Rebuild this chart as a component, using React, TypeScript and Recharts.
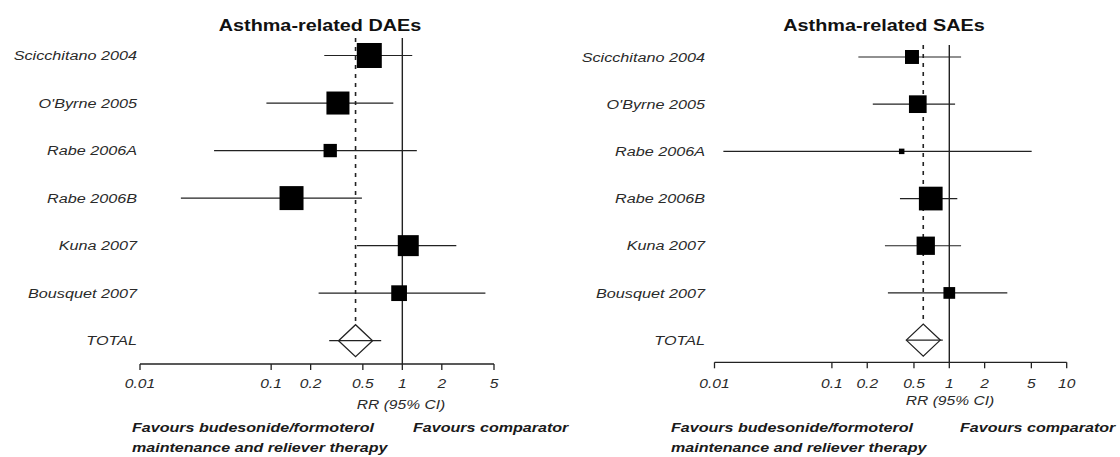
import React from "react";
import {
  ErrorBar,
  ReferenceLine,
  Scatter,
  ScatterChart,
  XAxis,
  YAxis,
} from "recharts";

const STUDIES = [
  "Scicchitano 2004",
  "O'Byrne 2005",
  "Rabe 2006A",
  "Rabe 2006B",
  "Kuna 2007",
  "Bousquet 2007",
];
const TOTAL_LABEL = "TOTAL";

// Asthma-related DAEs: relative risk with 95% CI, and study weight
const DAE_RR = [0.56, 0.323, 0.282, 0.143, 1.11, 0.945];
const DAE_LOW = [0.254, 0.092, 0.0367, 0.0205, 0.451, 0.23];
const DAE_HIGH = [1.19, 0.854, 1.29, 0.492, 2.58, 4.3];
const DAE_WEIGHT = [25, 21.2, 7.1, 23, 17.6, 9.9];
const DAE_POOLED = [0.44, 0.277, 0.69]; // rr, low, high
const DAE_TICKS = [0.01, 0.1, 0.2, 0.5, 1, 2, 5];

// Asthma-related SAEs
const SAE_RR = [0.481, 0.539, 0.393, 0.695, 0.63, 1.0];
const SAE_LOW = [0.168, 0.223, 0.0119, 0.38, 0.283, 0.3];
const SAE_HIGH = [1.26, 1.12, 5.03, 1.17, 1.26, 3.12];
const SAE_WEIGHT = [7.8, 12.5, 1.2, 22.5, 13.4, 5.5];
const SAE_POOLED = [0.6, 0.434, 0.88];
const SAE_TICKS = [0.01, 0.1, 0.2, 0.5, 1, 2, 5, 10];

const FONT = "'Liberation Sans', Arial, Helvetica, sans-serif";
const STRETCH = 1.2; // the printed figure is set in a wide face
const INK = "#222";
const ROW_LABELS = [...STUDIES, TOTAL_LABEL];

const StudySquare = (props: any) => {
  const { cx, cy, payload } = props;
  const side = 5 * Math.sqrt(payload.weight);
  return (
    <rect
      x={cx - side / 2}
      y={cy - side / 2}
      width={side}
      height={side}
      fill="#000"
    />
  );
};

const PooledDiamond = (props: any) => {
  const { cx, cy } = props;
  const pts = `${cx - 17},${cy} ${cx},${cy - 16} ${cx + 17},${cy} ${cx},${cy + 16}`;
  return <polygon points={pts} fill="none" stroke={INK} strokeWidth={1.3} />;
};

const StudyTick = (props: any) => {
  const { x, y, payload } = props;
  return (
    <g transform={`translate(${x},${y}) scale(${STRETCH},1)`}>
      <text
        textAnchor="end"
        dy={4.7}
        fontSize={13.5}
        fontStyle="italic"
        fontFamily={FONT}
        fill="#2a2a2a"
      >
        {ROW_LABELS[payload.value]}
      </text>
    </g>
  );
};

const RRTick = (props: any) => {
  const { x, y, payload } = props;
  return (
    <g transform={`translate(${x},${y}) scale(${STRETCH},1)`}>
      <text
        textAnchor="middle"
        dy={10.5}
        fontSize={13}
        fontStyle="italic"
        fontFamily={FONT}
        fill="#2a2a2a"
      >
        {String(payload.value)}
      </text>
    </g>
  );
};

interface PanelProps {
  rr: number[];
  low: number[];
  high: number[];
  weight: number[];
  pooled: number[];
  ticks: number[];
  axisWidth: number;
  labelGap: number;
  tickGap: number;
  margin: { top: number; right: number; bottom: number; left: number };
  rowDomain: [number, number];
}

function ForestPanel(p: PanelProps) {
  const studies = STUDIES.map((_, i) => ({
    row: i,
    rr: p.rr[i],
    err: [p.rr[i] - p.low[i], p.high[i] - p.rr[i]],
    weight: p.weight[i],
  }));
  const total = [
    {
      row: STUDIES.length,
      rr: p.pooled[0],
      err: [p.pooled[0] - p.pooled[1], p.pooled[2] - p.pooled[0]],
    },
  ];
  const xMax = p.ticks[p.ticks.length - 1];

  return (
    <ScatterChart width={560} height={457} margin={p.margin}>
      <XAxis
        type="number"
        dataKey="rr"
        scale="log"
        domain={[p.ticks[0], xMax]}
        ticks={p.ticks}
        interval={0}
        allowDataOverflow
        height={30}
        tickSize={6}
        tickMargin={p.tickGap}
        axisLine={{ stroke: INK, strokeWidth: 1.3 }}
        tickLine={{ stroke: INK, strokeWidth: 1.3 }}
        tick={<RRTick />}
      />
      <YAxis
        type="number"
        dataKey="row"
        reversed
        domain={p.rowDomain}
        allowDataOverflow
        ticks={ROW_LABELS.map((_, i) => i)}
        interval={0}
        width={p.axisWidth}
        axisLine={false}
        tickLine={false}
        tickSize={0}
        tickMargin={p.labelGap}
        tick={<StudyTick />}
      />
      <ReferenceLine x={1} stroke={INK} strokeWidth={1.4} />
      <ReferenceLine
        segment={[
          { x: p.pooled[0], y: p.rowDomain[0] },
          { x: p.pooled[0], y: STUDIES.length - 0.4 },
        ]}
        stroke={INK}
        strokeWidth={1.6}
        strokeDasharray="4 5"
      />
      <Scatter data={studies} shape={StudySquare} isAnimationActive={false}>
        <ErrorBar
          dataKey="err"
          direction="x"
          width={0}
          stroke={INK}
          strokeWidth={1.2}
          isAnimationActive={false}
        />
      </Scatter>
      <Scatter data={total} shape={PooledDiamond} isAnimationActive={false}>
        <ErrorBar
          dataKey="err"
          direction="x"
          width={0}
          stroke={INK}
          strokeWidth={1.2}
          isAnimationActive={false}
        />
      </Scatter>
    </ScatterChart>
  );
}

const textBase: React.CSSProperties = {
  position: "absolute",
  fontFamily: FONT,
  whiteSpace: "nowrap",
  lineHeight: "20px",
};

function Title({ text, cx }: { text: string; cx: number }) {
  return (
    <div
      style={{
        ...textBase,
        left: cx,
        top: 15,
        fontSize: 16.5,
        fontWeight: "bold",
        color: "#111",
        transform: `translateX(-50%) scaleX(${STRETCH})`,
      }}
    >
      {text}
    </div>
  );
}

function AxisTitle({ cx, cy }: { cx: number; cy: number }) {
  return (
    <div
      style={{
        ...textBase,
        left: cx,
        top: cy - 10,
        fontSize: 13,
        fontStyle: "italic",
        color: "#2a2a2a",
        transform: `translateX(-50%) scaleX(${STRETCH})`,
      }}
    >
      RR (95% CI)
    </div>
  );
}

function Favours({ x, cx2 }: { x: number; cx2: number }) {
  const s: React.CSSProperties = {
    ...textBase,
    fontSize: 13.4,
    fontWeight: "bold",
    fontStyle: "italic",
    color: "#1a1a1a",
    transformOrigin: "0 50%",
    transform: `scaleX(${STRETCH})`,
  };
  return (
    <>
      <div style={{ ...s, left: x, top: 418 }}>
        Favours budesonide/formoterol
      </div>
      <div style={{ ...s, left: x, top: 438 }}>
        maintenance and reliever therapy
      </div>
      <div style={{ ...s, left: cx2, top: 418 }}>Favours comparator</div>
    </>
  );
}

export default function App() {
  return (
    <div
      style={{
        position: "relative",
        width: 1120,
        height: 457,
        background: "#fff",
        overflow: "hidden",
      }}
    >
      <style>{"body{margin:0;background:#fff}"}</style>
      <div style={{ position: "absolute", left: 0, top: 0 }}>
        <ForestPanel
          rr={DAE_RR}
          low={DAE_LOW}
          high={DAE_HIGH}
          weight={DAE_WEIGHT}
          pooled={DAE_POOLED}
          ticks={DAE_TICKS}
          axisWidth={140}
          labelGap={3}
          tickGap={7}
          margin={{ top: 38, right: 66, bottom: 63, left: 0 }}
          rowDomain={[-0.368, 6.49]}
        />
      </div>
      <div style={{ position: "absolute", left: 560, top: 0 }}>
        <ForestPanel
          rr={SAE_RR}
          low={SAE_LOW}
          high={SAE_HIGH}
          weight={SAE_WEIGHT}
          pooled={SAE_POOLED}
          ticks={SAE_TICKS}
          axisWidth={154.5}
          labelGap={9.5}
          tickGap={9}
          margin={{ top: 45, right: 53.3, bottom: 64.7, left: 0 }}
          rowDomain={[-0.254, 6.47]}
        />
      </div>
      <Title text="Asthma-related DAEs" cx={320} />
      <Title text="Asthma-related SAEs" cx={884} />
      <AxisTitle cx={401} cy={405} />
      <AxisTitle cx={950} cy={401} />
      <Favours x={132} cx2={413} />
      <Favours x={671} cx2={960} />
    </div>
  );
}
